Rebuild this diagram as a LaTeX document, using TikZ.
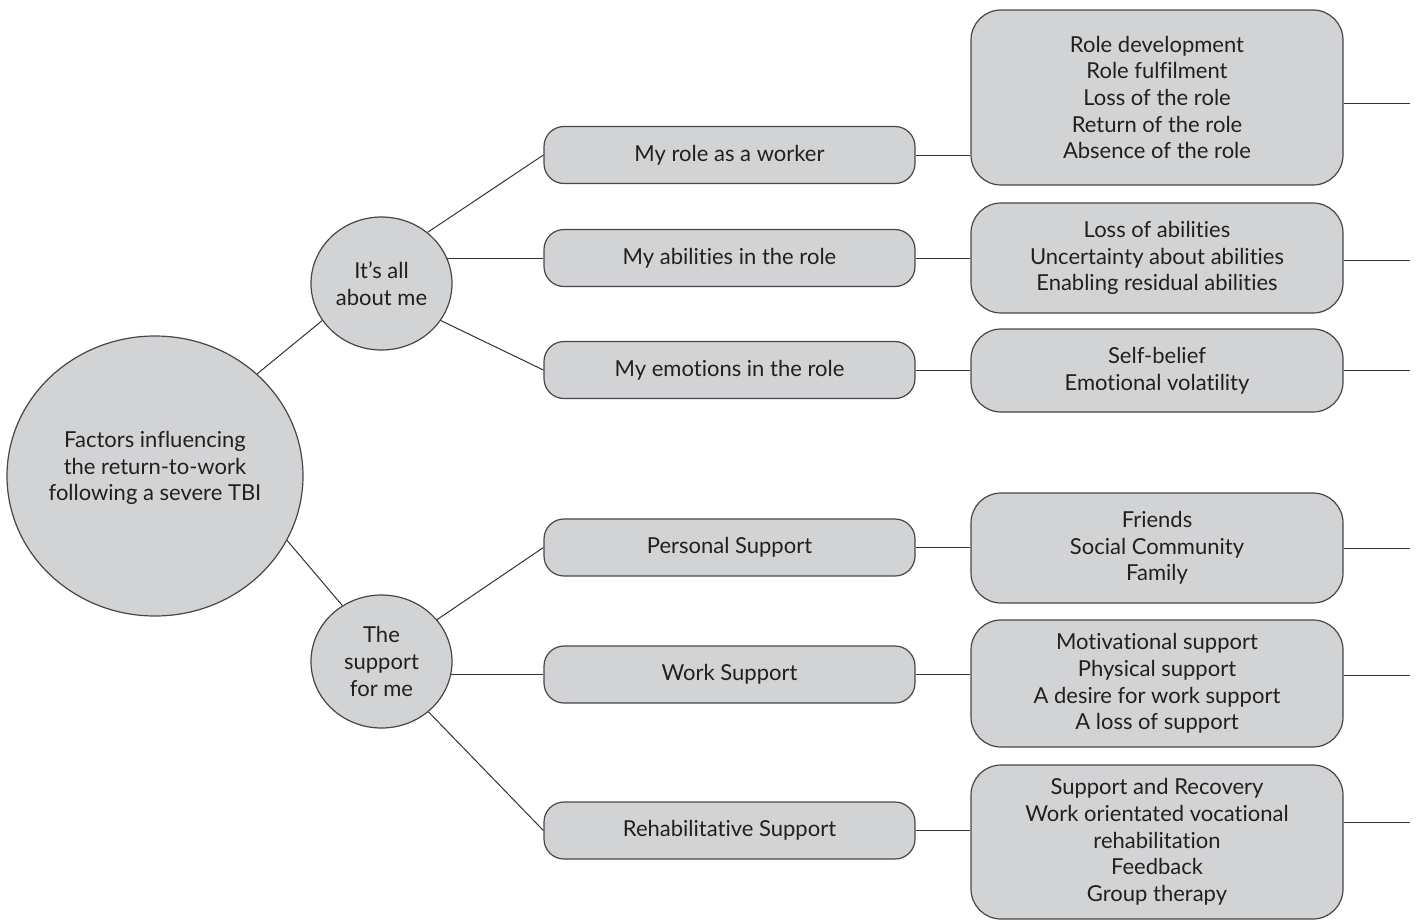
\documentclass[tikz,border=0pt]{standalone}
\usepackage{fontspec}
\setmainfont{Lato}[Ligatures=NoCommon]
\usetikzlibrary{shapes.geometric,backgrounds}
\definecolor{boxfill}{RGB}{210,211,213}
\definecolor{boxline}{RGB}{70,70,72}
\definecolor{conn}{RGB}{50,50,52}
\definecolor{txt}{RGB}{35,31,32}
\tikzset{
  textstyle/.style={text=txt, align=center, inner sep=0pt, font=\fontsize{16.5}{20}\selectfont},
  base/.style={textstyle, draw=boxline, fill=boxfill, line width=0.9pt},
  bigcirc/.style={base, ellipse, minimum width=222pt, minimum height=210pt},
  subcirc/.style={base, ellipse, minimum width=105.75pt, minimum height=99.75pt},
  midbox/.style={base, rectangle, rounded corners=15pt, minimum width=278.25pt, minimum height=42.75pt},
  rightbox/.style={base, rectangle, rounded corners=22.5pt, minimum width=279pt},
  link/.style={draw=conn, line width=0.75pt},
}
\begin{document}
\begin{tikzpicture}[x=0.75pt,y=-0.75pt]
\useasboundingbox (0,0) rectangle (1416,921);
\node[bigcirc] (big) at (155,476) {};
\node[textstyle] (bigtext) at (155,468) {Factors influencing\\the return-to-work\\following a severe TBI};
\node[subcirc] (s1) at (381.5,283.5) {It’s all\\about me};
\node[subcirc] (s2) at (381.5,661.5) {The\\support\\for me};
\node[midbox] (m1) at (729.5,155) {My role as a worker};
\node[midbox] (m2) at (729.5,258) {My abilities in the role};
\node[midbox] (m3) at (729.5,370) {My emotions in the role};
\node[midbox] (m4) at (729.5,547.5) {Personal Support};
\node[midbox] (m5) at (729.5,674.5) {Work Support};
\node[midbox] (m6) at (729.5,830.5) {Rehabilitative Support};
\node[rightbox, minimum height=131.25pt] (r1) at (1157,97.5) {Role development\\Role fulfilment\\Loss of the role\\Return of the role\\Absence of the role};
\node[rightbox, minimum height=82.5pt] (r2) at (1157,258) {Loss of abilities\\Uncertainty about abilities\\Enabling residual abilities};
\node[rightbox, minimum height=62.25pt] (r3) at (1157,370.5) {Self-belief\\Emotional volatility};
\node[rightbox, minimum height=82.5pt] (r4) at (1157,548) {Friends\\Social Community\\Family};
\node[rightbox, minimum height=95.25pt] (r5) at (1157,683.5) {Motivational support\\Physical support\\A desire for work support\\A loss of support};
\node[rightbox, minimum height=115.5pt] (r6) at (1157,842) {Support and Recovery\\Work orientated vocational\\rehabilitation\\Feedback\\Group therapy};
\coordinate (e1) at (1410,103);
\coordinate (e2) at (1410,260);
\coordinate (e3) at (1410,370);
\coordinate (e4) at (1410,548);
\coordinate (e5) at (1410,675);
\coordinate (e6) at (1410,822);
\begin{scope}[on background layer]
\draw[link] (big.45.8) -- (s1.212);
\draw[link] (big.-26) -- (s2.125);
\draw[link] (s1.48) -- (m1.west);
\draw[link] (s1.center |- m2.west) -- (m2.west);
\draw[link] (s1.-32.7) -- (m3.west);
\draw[link] (s2.37) -- (m4.west);
\draw[link] (s2.center |- m5.west) -- (m5.west);
\draw[link] (s2.-47.4) -- (m6.west);
\draw[link] (m1.east) -- (m1.east -| r1.west);
\draw[link] (m2.east) -- (m2.east -| r2.west);
\draw[link] (m3.east) -- (m3.east -| r3.west);
\draw[link] (m4.east) -- (m4.east -| r4.west);
\draw[link] (m5.east) -- (m5.east -| r5.west);
\draw[link] (m6.east) -- (m6.east -| r6.west);
\draw[link] (e1 -| r1.east) -- (e1);
\draw[link] (e2 -| r2.east) -- (e2);
\draw[link] (e3 -| r3.east) -- (e3);
\draw[link] (e4 -| r4.east) -- (e4);
\draw[link] (e5 -| r5.east) -- (e5);
\draw[link] (e6 -| r6.east) -- (e6);
\end{scope}
\end{tikzpicture}
\end{document}
